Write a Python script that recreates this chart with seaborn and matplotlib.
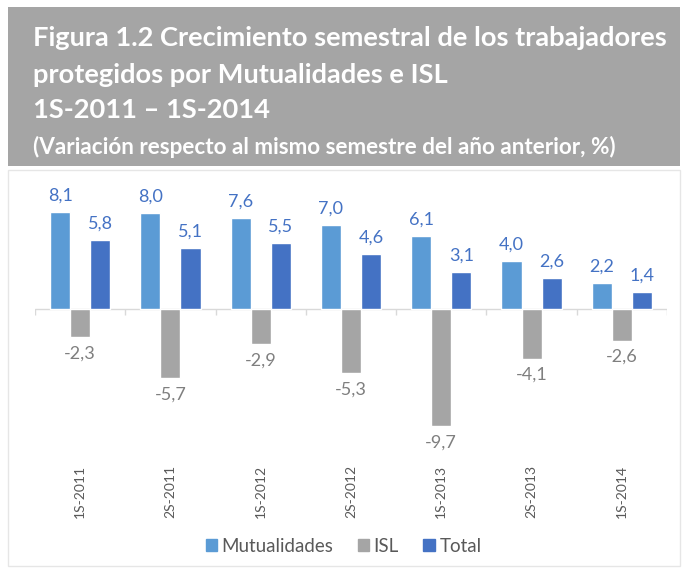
import pandas as pd
import matplotlib.pyplot as plt
import seaborn as sns
from matplotlib.patches import Rectangle

# Data
periods = ['1S-2011', '2S-2011', '1S-2012', '2S-2012', '1S-2013', '2S-2013', '1S-2014']
mutualidades = [8.1, 8.0, 7.6, 7.0, 6.1, 4.0, 2.2]
isl = [-2.3, -5.7, -2.9, -5.3, -9.7, -4.1, -2.6]
total = [5.8, 5.1, 5.5, 4.6, 3.1, 2.6, 1.4]
series = ['Mutualidades', 'ISL', 'Total']
colors = ['#5B9BD5', '#A5A5A5', '#4472C4']
label_colors = ['#4472C4', '#7F7F7F', '#4472C4']

df = pd.DataFrame({
    'Periodo': periods * 3,
    'Serie': [s for s in series for _ in periods],
    'Valor': mutualidades + isl + total,
})

sns.set_style('white')
plt.rcParams['font.family'] = ['Lato', 'DejaVu Sans']

fig = plt.figure(figsize=(6.87, 5.69), dpi=100)

# gray header box
fig.patches.append(Rectangle((8 / 687, 1 - 166 / 569), 672 / 687, 159 / 569,
                             transform=fig.transFigure, facecolor='#A5A5A5',
                             edgecolor='none', zorder=0))
# light frame around chart area
fig.patches.append(Rectangle((8 / 687, 1 - 566 / 569), 672 / 687, 396 / 569,
                             transform=fig.transFigure, facecolor='none',
                             edgecolor='#E6E6E6', lw=1, zorder=0))

title_lines = [
    ('Figura 1.2 Crecimiento semestral de los trabajadores', 38, 19.6),
    ('protegidos por Mutualidades e ISL', 75, 19.6),
    ('1S-2011 \u2013 1S-2014', 110, 19.6),
    ('(Variación respecto al mismo semestre del año anterior, %)', 147, 16.2),
]
for txt, y, fs in title_lines:
    fig.text(33 / 687, 1 - y / 569, txt, color='white', fontsize=fs,
             fontweight='bold', va='center', ha='left')

ax = fig.add_axes([35 / 687, 107 / 569, 632 / 687, 267 / 569])
sns.barplot(data=df, x='Periodo', y='Valor', hue='Serie', palette=colors,
            hue_order=series, order=periods, width=0.667, gap=0,
            saturation=1, ax=ax, legend=False)

ax.set_ylim(-12.7, 9.5)
ax.set_xlim(-0.5, len(periods) - 0.5)
for s in ax.spines.values():
    s.set_visible(False)
ax.set_yticks([])
ax.set_xlabel('')
ax.set_ylabel('')
ax.axhline(0, color='#D9D9D9', lw=1, zorder=0)
ax.vlines([i - 0.5 for i in range(len(periods) + 1)], -0.45, 0,
          color='#D9D9D9', lw=1, zorder=0)
ax.tick_params(axis='x', length=0, pad=2, labelsize=10, labelcolor='#595959')
plt.setp(ax.get_xticklabels(), rotation=90)

for cont, lc in zip(ax.containers, label_colors):
    labels = [f'{b.get_height():.1f}'.replace('.', ',') for b in cont]
    ax.bar_label(cont, labels=labels, padding=6, fontsize=13, color=lc)

handles = [Rectangle((0, 0), 1, 1, color=c) for c in colors]
fig.legend(handles, series, loc='center', bbox_to_anchor=(0.5, 1 - 546 / 569),
           ncol=3, frameon=False, fontsize=13.5, labelcolor='#595959',
           handlelength=0.6, handleheight=0.6, handletextpad=0.25,
           columnspacing=1.3)

fig.savefig('out.png', dpi=100)
